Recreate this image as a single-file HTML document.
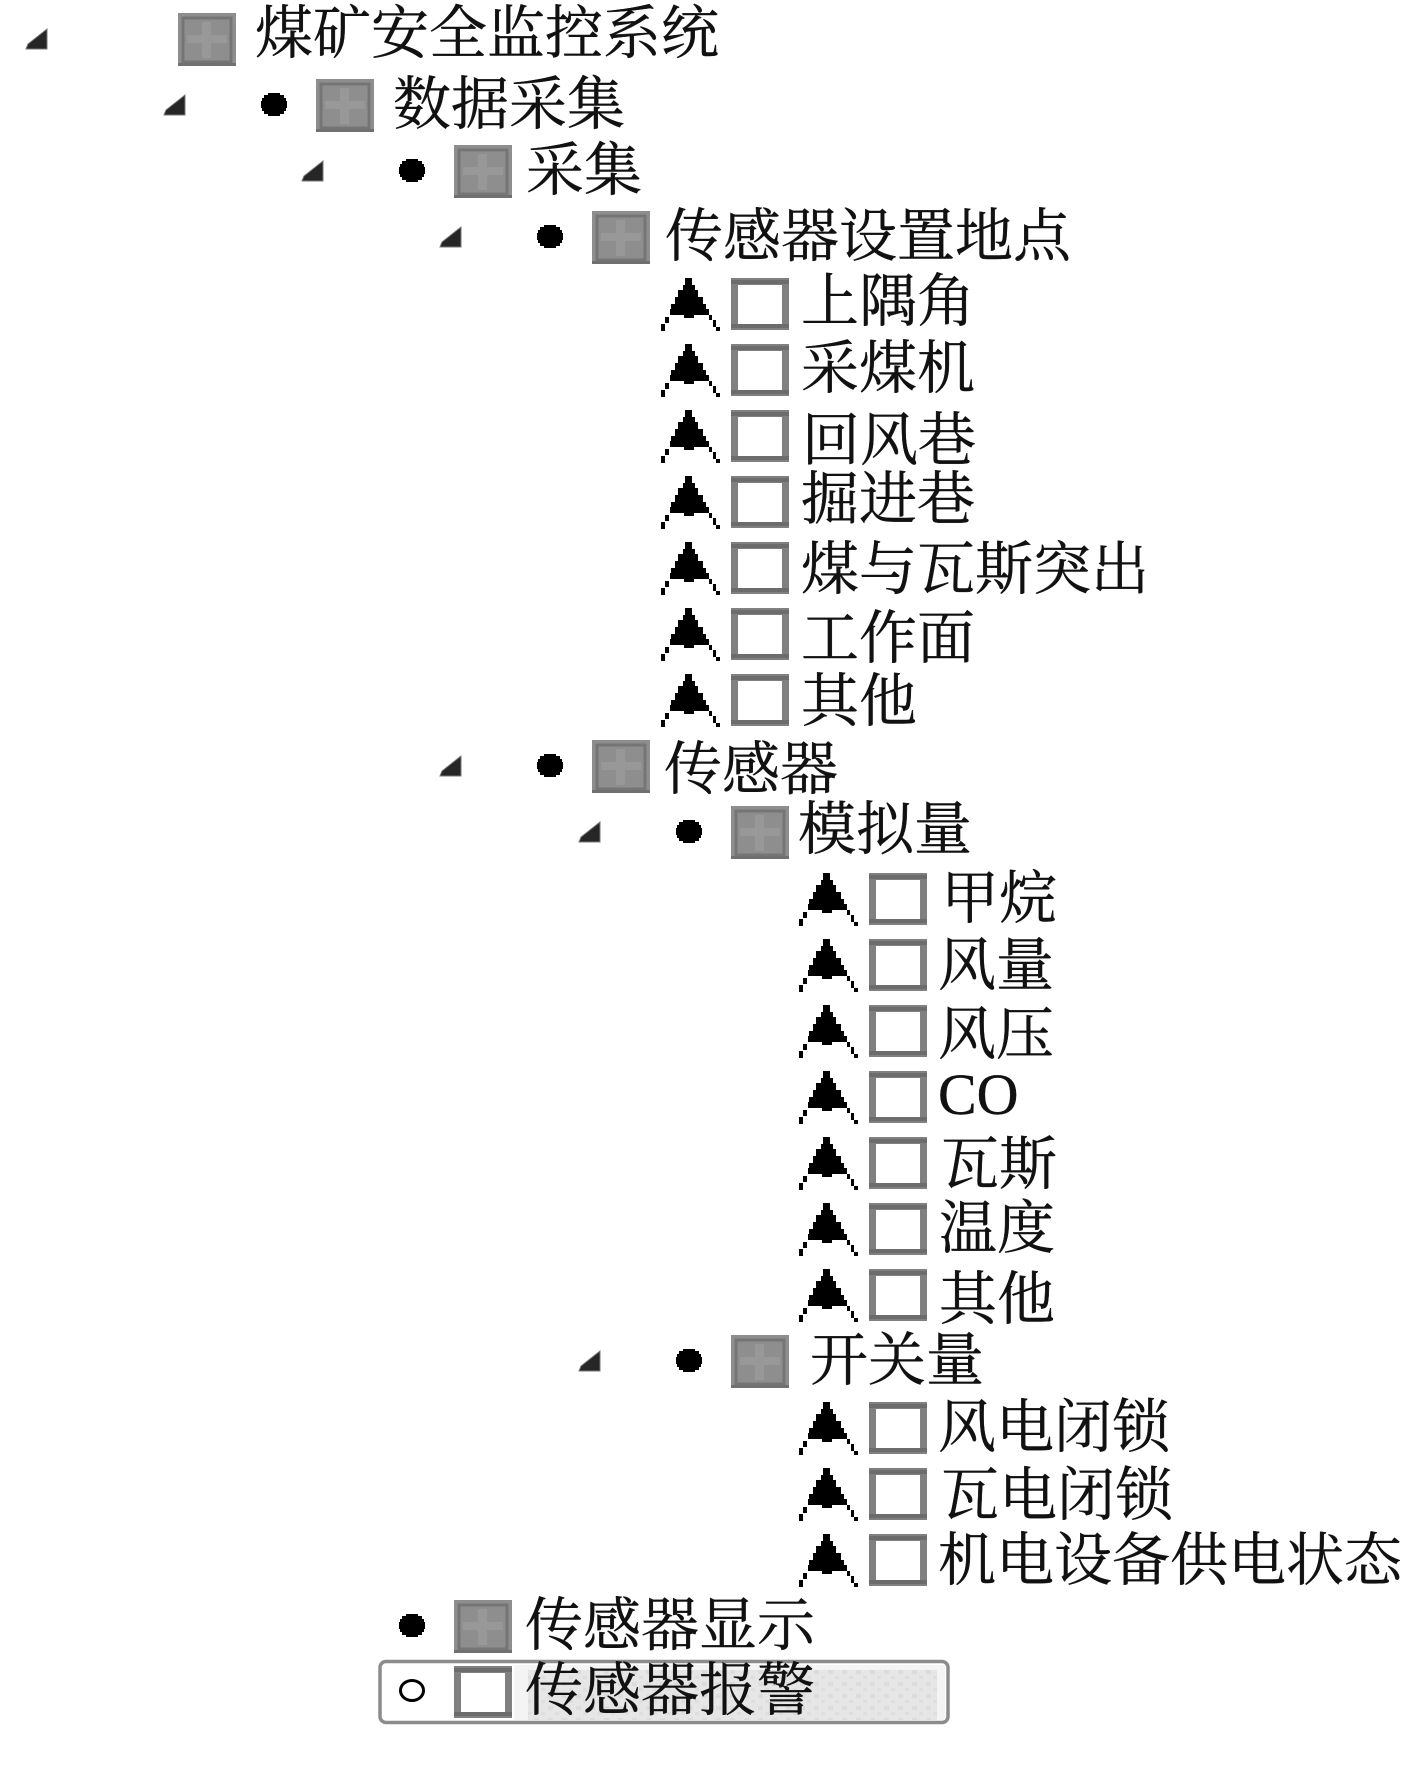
<!DOCTYPE html>
<html lang="zh">
<head>
<meta charset="utf-8">
<title>煤矿安全监控系统</title>
<style>
html,body{margin:0;padding:0;background:#fff;width:1406px;height:1769px;overflow:hidden}
svg{display:block}
text{font-family:"Liberation Serif","Noto Serif CJK SC",serif;font-size:58px;fill:#111;stroke:#111;stroke-width:.4px}
</style>
</head>
<body>
<svg xmlns="http://www.w3.org/2000/svg" width="1406" height="1769" viewBox="0 0 1406 1769">
<defs>
<g id="b">
<rect x="0" y="0" width="58" height="53" fill="#8e8e8e"/>
<rect x="5" y="5" width="48" height="44" fill="none" stroke="#757575" stroke-width="3"/>
<rect x="24" y="9" width="9" height="36" fill="#989898"/>
<rect x="9" y="22" width="40" height="8" fill="#989898"/>
<rect x="0" y="50" width="58" height="3" fill="#707070"/>
</g>
<g id="c">
<rect x="0" y="0" width="58" height="52" fill="#808080"/>
<rect x="0" y="2" width="58" height="4" fill="#6c6c6c"/>
<rect x="0" y="46" width="58" height="4" fill="#6c6c6c"/>
<rect x="7" y="7" width="44" height="39" fill="#fff"/>
</g>
<g id="a" shape-rendering="crispEdges">
<path d="M-46,0h7v7h3v5h3v7h5v7h3v5h3v6h-15v3h-10v-3h-14v-6h1v-5h4v-7h3v-7h5v-5h2z" fill="#000"/>
<path d="M-66,39h4v6h-4zM-70,46h4v7h-4zM-22,37h3v5h-3zM-18,42h3v7h-3zM-15,49h4v4h-4z" fill="#000"/>
</g>
<g id="t">
<polygon points="-131,16 -131,36 -152,36 -150,31" fill="#262626" stroke="#777" stroke-width="1"/>
</g>
<path id="d" shape-rendering="crispEdges" d="M-48,14h12v2h4v3h2v3h1v7h-1v3h-2v3h-4v2h-12v-2h-4v-3h-2v-3h-1v-7h1v-3h2v-3h4z" fill="#000"/>
<pattern id="p" width="14" height="12" patternUnits="userSpaceOnUse">
<rect width="14" height="12" fill="#e6e6e6"/>
<rect x="2" y="2" width="5" height="4" fill="#dcdcdc"/>
<rect x="9" y="8" width="4" height="3" fill="#dedede"/>
</pattern>
</defs>

<!-- selection -->
<rect x="380" y="1661.500" width="568" height="61" rx="6" fill="#fff" stroke="#8c8c8c" stroke-width="3.500"/>
<rect x="514" y="1665" width="431" height="55" fill="#f4f4f4"/>
<rect x="528" y="1670" width="409" height="50" fill="url(#p)"/>

<!-- icons -->
<use href="#t" x="178" y="13"/><use href="#b" x="178" y="13"/>
<use href="#t" x="316" y="79"/><use href="#d" x="316" y="79"/><use href="#b" x="316" y="79"/>
<use href="#t" x="454" y="145"/><use href="#d" x="454" y="145"/><use href="#b" x="454" y="145"/>
<use href="#t" x="592" y="211"/><use href="#d" x="592" y="211"/><use href="#b" x="592" y="211"/>

<use href="#a" x="731" y="278"/><use href="#c" x="731" y="278"/>
<use href="#a" x="731" y="344"/><use href="#c" x="731" y="344"/>
<use href="#a" x="731" y="410"/><use href="#c" x="731" y="410"/>
<use href="#a" x="731" y="476"/><use href="#c" x="731" y="476"/>
<use href="#a" x="731" y="542"/><use href="#c" x="731" y="542"/>
<use href="#a" x="731" y="608"/><use href="#c" x="731" y="608"/>
<use href="#a" x="731" y="674"/><use href="#c" x="731" y="674"/>

<use href="#t" x="592" y="740"/><use href="#d" x="592" y="740"/><use href="#b" x="592" y="740"/>
<use href="#t" x="731" y="806"/><use href="#d" x="731" y="806"/><use href="#b" x="731" y="806"/>

<use href="#a" x="869" y="873"/><use href="#c" x="869" y="873"/>
<use href="#a" x="869" y="939"/><use href="#c" x="869" y="939"/>
<use href="#a" x="869" y="1005"/><use href="#c" x="869" y="1005"/>
<use href="#a" x="869" y="1071"/><use href="#c" x="869" y="1071"/>
<use href="#a" x="869" y="1137"/><use href="#c" x="869" y="1137"/>
<use href="#a" x="869" y="1203"/><use href="#c" x="869" y="1203"/>
<use href="#a" x="869" y="1269"/><use href="#c" x="869" y="1269"/>

<use href="#t" x="731" y="1335"/><use href="#d" x="731" y="1335"/><use href="#b" x="731" y="1335"/>

<use href="#a" x="869" y="1402"/><use href="#c" x="869" y="1402"/>
<use href="#a" x="869" y="1468"/><use href="#c" x="869" y="1468"/>
<use href="#a" x="869" y="1534"/><use href="#c" x="869" y="1534"/>

<use href="#d" x="454" y="1600"/><use href="#b" x="454" y="1600"/>
<ellipse cx="412" cy="1690.500" rx="11.500" ry="10" fill="#fff" stroke="#000" stroke-width="3"/>
<use href="#c" x="454" y="1666"/>

<!-- labels -->
<text x="255" y="53">煤矿安全监控系统</text>
<text x="393" y="124">数据采集</text>
<text x="526" y="190">采集</text>
<text x="665" y="256">传感器设置地点</text>
<text x="801" y="321">上隅角</text>
<text x="801" y="388">采煤机</text>
<text x="802" y="460">回风巷</text>
<text x="801" y="519">掘进巷</text>
<text x="801" y="589">煤与瓦斯突出</text>
<text x="801" y="658">工作面</text>
<text x="801" y="721">其他</text>
<text x="664" y="789">传感器</text>
<text x="798" y="849">模拟量</text>
<text x="941" y="918">甲烷</text>
<text x="938" y="985">风量</text>
<text x="938" y="1054">风压</text>
<text x="938" y="1114">CO</text>
<text x="941" y="1184">瓦斯</text>
<text x="939" y="1248">温度</text>
<text x="939" y="1319">其他</text>
<text x="810" y="1380">开关量</text>
<text x="938" y="1447">风电闭锁</text>
<text x="941" y="1515">瓦电闭锁</text>
<text x="938" y="1580">机电设备供电状态</text>
<text x="525" y="1645">传感器显示</text>
<text x="525" y="1710">传感器报警</text>
</svg>
</body>
</html>
